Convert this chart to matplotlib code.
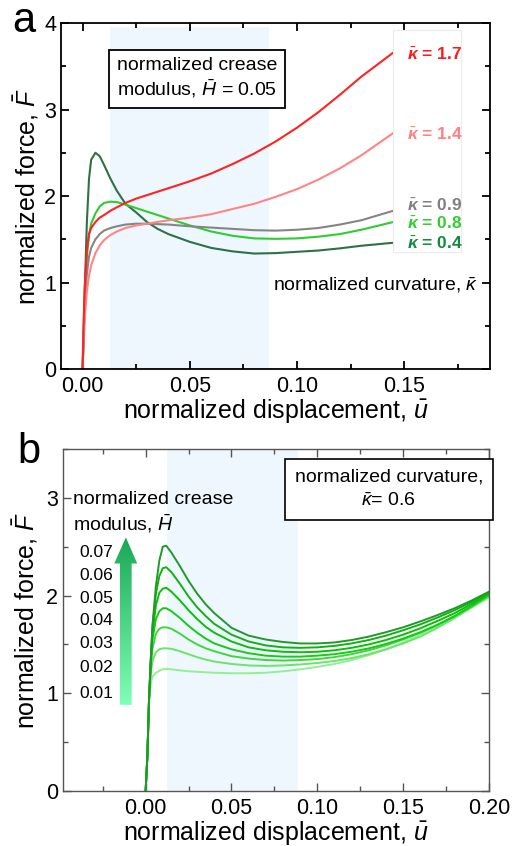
import numpy as np
import matplotlib
matplotlib.use('Agg')
import matplotlib.pyplot as plt
from matplotlib.patches import Polygon, Rectangle
from matplotlib.ticker import MultipleLocator

plt.rcParams['font.family'] = ['Liberation Sans', 'DejaVu Sans']
plt.rcParams['mathtext.fontset'] = 'custom'
plt.rcParams['mathtext.rm'] = 'Liberation Sans'
plt.rcParams['mathtext.it'] = 'Liberation Sans:italic'
plt.rcParams['mathtext.bf'] = 'Liberation Sans:bold'
plt.rcParams['mathtext.bfit'] = 'Liberation Sans:italic:bold'

# ---- panel a data: force vs displacement for several curvatures (H = 0.05)
u_a = [0, 0.0005, 0.001, 0.002, 0.003, 0.004, 0.006, 0.008, 0.010, 0.013,
       0.016, 0.020, 0.025, 0.030, 0.035, 0.040, 0.050, 0.060, 0.070, 0.080,
       0.090, 0.100, 0.110, 0.120, 0.130, 0.145]
F_k17 = [0, 0.55, 0.95, 1.38, 1.56, 1.63, 1.70, 1.75, 1.78, 1.83, 1.87, 1.92,
         1.97, 2.01, 2.05, 2.09, 2.17, 2.26, 2.37, 2.49, 2.63, 2.79, 2.97,
         3.17, 3.38, 3.66]
F_k14 = [0, 0.35, 0.60, 0.90, 1.08, 1.20, 1.34, 1.43, 1.49, 1.55, 1.59, 1.63,
         1.66, 1.68, 1.70, 1.72, 1.75, 1.79, 1.85, 1.91, 1.99, 2.08, 2.19,
         2.32, 2.47, 2.73]
F_k09 = [0, 0.40, 0.75, 1.10, 1.30, 1.40, 1.50, 1.56, 1.60, 1.63, 1.65, 1.67,
         1.68, 1.68, 1.675, 1.67, 1.65, 1.635, 1.62, 1.605, 1.60, 1.61, 1.63,
         1.67, 1.72, 1.83]
F_k08 = [0, 0.30, 0.70, 1.30, 1.55, 1.68, 1.80, 1.88, 1.92, 1.935, 1.93, 1.90,
         1.86, 1.82, 1.78, 1.74, 1.66, 1.59, 1.54, 1.51, 1.505, 1.51, 1.53,
         1.56, 1.61, 1.70]
F_k04 = [0, 0.45, 0.90, 1.70, 2.20, 2.42, 2.50, 2.46, 2.36, 2.20, 2.06, 1.91,
         1.81, 1.70, 1.62, 1.56, 1.47, 1.40, 1.36, 1.335, 1.34, 1.355, 1.37,
         1.395, 1.425, 1.46]
curves_a = [F_k17, F_k14, F_k09, F_k08, F_k04]
kappa_labels = ['1.7', '1.4', '0.9', '0.8', '0.4']
label_y = [3.63, 2.71, 1.885, 1.676, 1.445]
line_colors_a = ['#FF2222', '#FF8484', '#858585', '#2FCC2F', '#2E7048']
label_colors_a = ['#FF1A1A', '#FF8080', '#808080', '#33CC33', '#138A40']

# ---- panel b data: force vs displacement for several crease moduli (kappa = 0.6)
u_b = [0, 0.001, 0.002, 0.003, 0.004, 0.006, 0.008, 0.010, 0.012, 0.015,
       0.020, 0.025, 0.030, 0.035, 0.040, 0.050, 0.060, 0.070, 0.080, 0.090,
       0.100, 0.110, 0.120, 0.130, 0.140, 0.150, 0.160, 0.170, 0.180, 0.190,
       0.200]
H_values = ['0.01', '0.02', '0.03', '0.04', '0.05', '0.06', '0.07']
F_H01 = [0, 0.35, 0.90, 1.10, 1.17, 1.21, 1.23, 1.245, 1.25, 1.245, 1.235,
         1.225, 1.22, 1.215, 1.21, 1.205, 1.205, 1.21, 1.225, 1.245, 1.27,
         1.30, 1.34, 1.39, 1.45, 1.52, 1.60, 1.69, 1.78, 1.88, 1.98]
F_H02 = [0, 0.35, 0.93, 1.20, 1.33, 1.42, 1.45, 1.46, 1.46, 1.455, 1.43, 1.40,
         1.37, 1.345, 1.325, 1.30, 1.285, 1.28, 1.285, 1.295, 1.31, 1.33,
         1.36, 1.40, 1.45, 1.51, 1.58, 1.67, 1.77, 1.88, 1.99]
F_H03 = [0, 0.35, 0.95, 1.27, 1.46, 1.61, 1.66, 1.675, 1.675, 1.66, 1.61,
         1.55, 1.50, 1.46, 1.43, 1.38, 1.355, 1.34, 1.335, 1.34, 1.35, 1.37,
         1.40, 1.44, 1.49, 1.55, 1.62, 1.70, 1.79, 1.89, 2.00]
F_H04 = [0, 0.35, 0.95, 1.30, 1.55, 1.76, 1.84, 1.87, 1.87, 1.84, 1.77, 1.69,
         1.62, 1.56, 1.51, 1.45, 1.41, 1.385, 1.375, 1.375, 1.385, 1.40, 1.425,
         1.46, 1.505, 1.56, 1.625, 1.70, 1.79, 1.895, 2.01]
F_H05 = [0, 0.35, 0.95, 1.33, 1.62, 1.90, 2.03, 2.07, 2.08, 2.04, 1.95, 1.85,
         1.76, 1.68, 1.62, 1.53, 1.47, 1.44, 1.425, 1.42, 1.425, 1.44, 1.465,
         1.50, 1.545, 1.60, 1.665, 1.74, 1.82, 1.915, 2.02]
F_H06 = [0, 0.35, 0.95, 1.35, 1.68, 2.02, 2.20, 2.28, 2.29, 2.24, 2.12, 1.99,
         1.88, 1.79, 1.71, 1.60, 1.53, 1.49, 1.47, 1.465, 1.47, 1.485, 1.51,
         1.545, 1.59, 1.645, 1.705, 1.775, 1.85, 1.935, 2.03]
F_H07 = [0, 0.35, 0.95, 1.35, 1.70, 2.10, 2.36, 2.50, 2.51, 2.44, 2.30, 2.15,
         2.02, 1.91, 1.82, 1.67, 1.59, 1.55, 1.525, 1.51, 1.51, 1.52, 1.545,
         1.58, 1.625, 1.675, 1.735, 1.80, 1.87, 1.95, 2.04]
curves_b = [F_H01, F_H02, F_H03, F_H04, F_H05, F_H06, F_H07]
colors_b = ['#92F092', '#6AE46A', '#3ED83E', '#14CC14', '#08C008', '#12B012', '#1E9A2A']
H_label_y = [1.00, 1.26, 1.51, 1.74, 1.97, 2.21, 2.44]

shade_a = (0.0127, 0.087)
shade_b = (0.0122, 0.0885)
shade_color = '#EEF6FE'

fig = plt.figure(figsize=(5.12, 8.46), dpi=100)
ax1 = fig.add_axes([0.119, 0.5638, 0.838, 0.409])
ax2 = fig.add_axes([0.1225, 0.065, 0.8325, 0.4043])


def style_axes(ax, spine_color, lw):
    for s in ax.spines.values():
        s.set_color(spine_color)
        s.set_linewidth(lw)
    ax.tick_params(which='both', direction='in', top=True, right=True,
                   color=spine_color, labelsize=15.5, width=lw)
    ax.tick_params(which='major', length=6)
    ax.tick_params(which='minor', length=3.5)
    ax.tick_params(axis='x', pad=5)


# ---------------- panel a ----------------
ax1.axvspan(shade_a[0], shade_a[1], ymax=0.988, color=shade_color, lw=0, zorder=0)
for F, c in zip(curves_a[::-1], line_colors_a[::-1]):
    ax1.plot(u_a, F, color=c, lw=1.5, zorder=2)

ax1.add_patch(Rectangle((0.1449, 1.35), 0.0317, 2.57, fc='white',
                        ec='#EBEBEB', lw=0.8, zorder=3))
for lab, y, c in zip(kappa_labels, label_y, label_colors_a):
    ax1.text(0.1515, y, r'$\bar{\mathbfit{\kappa}}$ = ' + lab, color=c,
             fontsize=12.5, fontweight='bold', va='center', ha='left', zorder=4)

ax1.set_xlim(-0.0101, 0.190)
ax1.set_ylim(0, 4)
ax1.xaxis.set_major_locator(MultipleLocator(0.05))
ax1.xaxis.set_minor_locator(MultipleLocator(0.025))
ax1.yaxis.set_major_locator(MultipleLocator(1))
ax1.yaxis.set_minor_locator(MultipleLocator(0.5))
ax1.set_xticks([0, 0.05, 0.10, 0.15])
ax1.set_xticklabels(['0.00', '0.05', '0.10', '0.15'])
style_axes(ax1, 'black', 1.3)
ax1.set_xlabel(r'normalized displacement, $\bar{u}$', fontsize=18, labelpad=0)
ax1.set_ylabel(r'normalized force, $\bar{F}$', fontsize=18, labelpad=2)

ax1.text(0.1305, 0.902, 'normalized crease\nmodulus, ' + r'$\bar{H}$' + ' = 0.05',
         transform=ax1.transAxes, fontsize=14, va='top', ha='left',
         linespacing=1.2, zorder=5,
         bbox=dict(boxstyle='square,pad=0.4', fc='white', ec='black', lw=1.3))
ax1.text(0.494, 0.243, r'normalized curvature, $\bar{\kappa}$',
         transform=ax1.transAxes, fontsize=14, va='center', ha='left')
fig.text(0.024, 0.962, 'a', fontsize=30, va='baseline', ha='left')

# ---------------- panel b ----------------
ax2.axvspan(shade_b[0], shade_b[1], color=shade_color, lw=0, zorder=0)
for F, c in zip(curves_b, colors_b):
    ax2.plot(u_b, F, color=c, lw=1.4, zorder=2)

ax2.set_xlim(-0.0483, 0.200)
ax2.set_ylim(0, 3.5)
ax2.xaxis.set_major_locator(MultipleLocator(0.05))
ax2.xaxis.set_minor_locator(MultipleLocator(0.025))
ax2.set_xticks([0, 0.05, 0.10, 0.15, 0.20])
ax2.set_xticklabels(['0.00', '0.05', '0.10', '0.15', '0.20'])
ax2.yaxis.set_major_locator(MultipleLocator(1))
ax2.yaxis.set_minor_locator(MultipleLocator(0.5))
style_axes(ax2, '#555555', 1.0)
ax2.tick_params(labelcolor='black')
ax2.set_xlabel(r'normalized displacement, $\bar{u}$', fontsize=18, labelpad=0)
ax2.set_ylabel(r'normalized force, $\bar{F}$', fontsize=18, labelpad=4)

# gradient arrow
arrow = Polygon([(-0.01496, 0.882), (-0.00815, 0.882), (-0.00815, 2.328),
                 (-0.00489, 2.328), (-0.01152, 2.595), (-0.01828, 2.328),
                 (-0.01496, 2.328)], closed=True, fc='none', ec='none',
                transform=ax2.transData)
ax2.add_patch(arrow)
grad = np.linspace(0, 1, 256).reshape(-1, 1)
cmap = matplotlib.colors.LinearSegmentedColormap.from_list('g', ['#80FFB8', '#1AA855'])
im = ax2.imshow(grad, extent=(-0.01828, -0.00489, 0.882, 2.595), origin='lower',
                cmap=cmap, aspect='auto', zorder=3)
im.set_clip_path(arrow)
ax2.set_xlim(-0.0483, 0.200)
ax2.set_ylim(0, 3.5)

for lab, y in zip(H_values, H_label_y):
    ax2.text(-0.019, y, lab, fontsize=12.5, ha='right', va='center')
ax2.text(0.0235, 0.876, 'normalized crease\nmodulus, ' + r'$\bar{H}$',
         transform=ax2.transAxes, fontsize=14, va='top', ha='left',
         linespacing=1.2)
ax2.text(0.765, 0.882, 'normalized curvature,\n' + r'$\bar{\kappa}$' + '= 0.6',
         transform=ax2.transAxes, fontsize=14, va='center', ha='center',
         multialignment='center', linespacing=1.55,
         bbox=dict(boxstyle='square,pad=0.5', fc='white', ec='black', lw=1.2))
fig.text(0.033, 0.4527, 'b', fontsize=30, va='baseline', ha='left')

fig.savefig('out.png', dpi=100)
